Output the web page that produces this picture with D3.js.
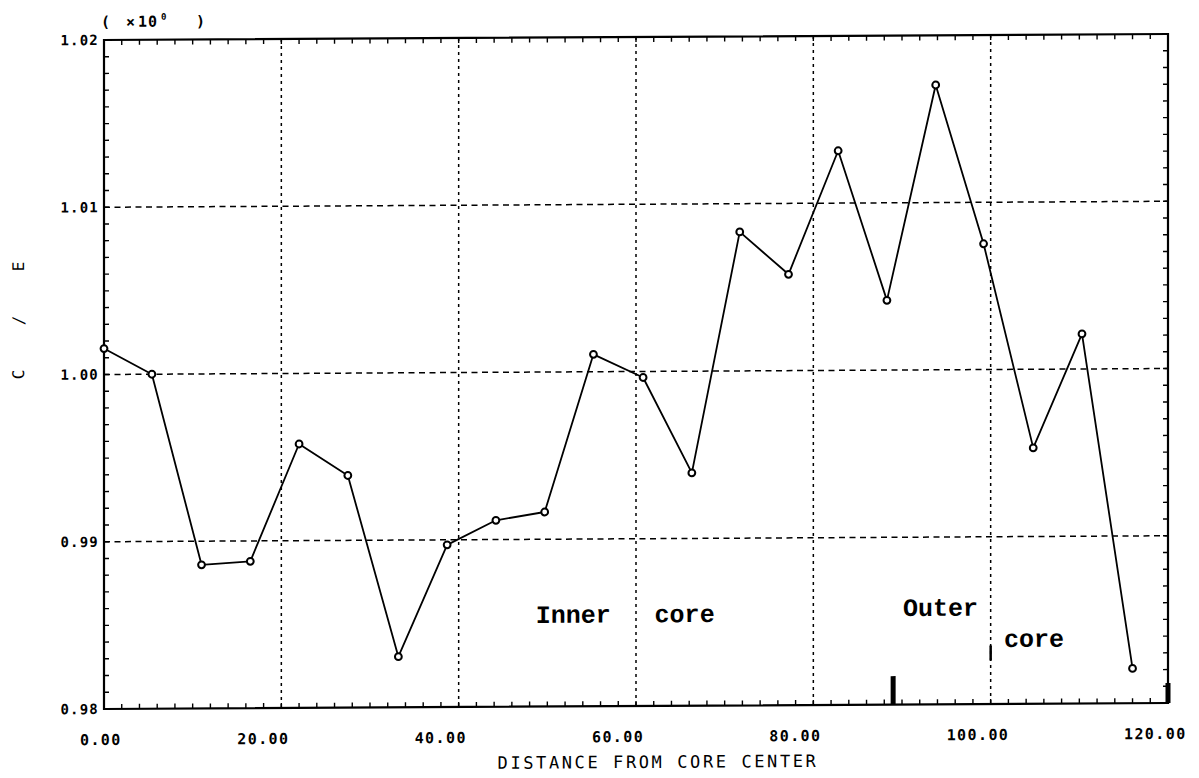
<!DOCTYPE html>
<html>
<head>
<meta charset="utf-8">
<script src="https://cdn.jsdelivr.net/npm/d3@7"></script>
<style>
  html, body { margin: 0; padding: 0; background: #fff; }
  svg { display: block; }
</style>
</head>
<body>
<svg id="chart" width="1199" height="778"></svg>
<script>
// C/E ratio against distance from the core centre
const distance = [0, 5.4, 11.0, 16.5, 22.0, 27.5, 33.2, 38.7, 44.2, 49.7, 55.2,
                  60.8, 66.3, 71.7, 77.2, 82.8, 88.3, 93.8, 99.2, 104.8, 110.3, 116.0];
const ratioCE = [1.00155, 1.00000, 0.98859, 0.98878, 0.99578, 0.99388, 0.98303,
                 0.98970, 0.99115, 0.99163, 1.00104, 0.99964, 0.99392, 1.00831,
                 1.00576, 1.01313, 1.00417, 1.01703, 1.00752, 0.99530, 1.00210, 0.98208];

const xTickValues = [0, 20, 40, 60, 80, 100, 120];
const xTickLabels = ["0.00", "20.00", "40.00", "60.00", "80.00", "100.00", "120.00"];
const yTickValues = [0.98, 0.99, 1.00, 1.01, 1.02];
const yTickLabels = ["0.98", "0.99", "1.00", "1.01", "1.02"];

// region annotations (data units, text baseline)
const noteText = ["Inner", "core", "Outer", "core"];
const noteX = [48.7, 62.1, 90.1, 101.5];
const noteY = [0.98500, 0.98500, 0.98529, 0.98341];

// boundary marks on the bottom axis
const markX = [89.0, 120.0];
const markTop = [0.9817, 0.9812];

const svg = d3.select("#chart");
const pL = 104, pR = 1168, pT = 40, pB = 709;

const x = d3.scaleLinear().domain([0, 120]).range([pL, pR]);
const y = d3.scaleLinear().domain([0.98, 1.02]).range([pB, pT]);

// slight shear: the whole plot leans up toward the right
const k = -6 / (pR - pL);
const g = svg.append("g")
  .attr("transform", `matrix(1,${k},0,1,0,${-k * pL})`);

const plotFont = "'DejaVu Sans Mono', monospace";

// grid
g.append("g").selectAll("line")
  .data(yTickValues.filter(v => v > 0.98 && v < 1.02))
  .join("line")
  .attr("x1", pL).attr("x2", pR)
  .attr("y1", d => y(d)).attr("y2", d => y(d))
  .attr("stroke", "#000").attr("stroke-width", 1.5)
  .attr("stroke-dasharray", "6,4.5");

g.append("g").selectAll("line")
  .data(xTickValues.filter(v => v > 0 && v < 120))
  .join("line")
  .attr("x1", d => x(d)).attr("x2", d => x(d))
  .attr("y1", pT).attr("y2", pB)
  .attr("stroke", "#000").attr("stroke-width", 1.5)
  .attr("stroke-dasharray", "3,4");

// inward minor ticks on all four sides
const xMinor = d3.range(0, 120.001, 2);
const yMinor = d3.range(0, 41).map(i => 0.98 + i * 0.001);
const ticks = g.append("g").attr("stroke", "#000").attr("stroke-width", 1.4);
ticks.selectAll(".tb").data(xMinor).join("line").attr("class", "tb")
  .attr("x1", d => x(d)).attr("x2", d => x(d))
  .attr("y1", pB).attr("y2", pB - 5);
ticks.selectAll(".tt").data(xMinor).join("line").attr("class", "tt")
  .attr("x1", d => x(d)).attr("x2", d => x(d))
  .attr("y1", pT).attr("y2", pT + 5);
ticks.selectAll(".tl").data(yMinor).join("line").attr("class", "tl")
  .attr("x1", pL).attr("x2", pL + 5)
  .attr("y1", d => y(d)).attr("y2", d => y(d));
ticks.selectAll(".tr").data(yMinor).join("line").attr("class", "tr")
  .attr("x1", pR).attr("x2", pR - 5)
  .attr("y1", d => y(d)).attr("y2", d => y(d));

// frame
g.append("rect")
  .attr("x", pL).attr("y", pT)
  .attr("width", pR - pL).attr("height", pB - pT)
  .attr("fill", "none").attr("stroke", "#000").attr("stroke-width", 2.2);

// boundary marks
g.append("g").selectAll("line").data(markX).join("line")
  .attr("x1", d => x(d)).attr("x2", d => x(d))
  .attr("y1", (d, i) => y(markTop[i])).attr("y2", pB)
  .attr("stroke", "#000").attr("stroke-width", 5);
g.append("line")
  .attr("x1", x(100)).attr("x2", x(100))
  .attr("y1", y(0.9835)).attr("y2", y(0.9826))
  .attr("stroke", "#000").attr("stroke-width", 2.5);

// y tick labels
g.append("g").selectAll("text").data(yTickValues).join("text")
  .attr("x", pL - 5).attr("y", d => y(d))
  .attr("dy", "0.36em")
  .attr("text-anchor", "end")
  .attr("font-family", plotFont).attr("font-size", 14)
  .attr("font-weight", "bold")
  .attr("letter-spacing", 1.2)
  .text((d, i) => yTickLabels[i]);

// x tick labels
g.append("g").selectAll("text").data(xTickValues).join("text")
  .attr("x", d => Math.max(x(d) - 44, pL - 24))
  .attr("y", pB + 36)
  .attr("text-anchor", "start")
  .attr("font-family", plotFont).attr("font-size", 15)
  .attr("font-weight", "bold")
  .attr("letter-spacing", 1.4)
  .text((d, i) => xTickLabels[i]);

// axis titles
g.append("text")
  .attr("x", 658).attr("y", pB + 62)
  .attr("text-anchor", "middle")
  .attr("font-family", plotFont).attr("font-size", 17)
  .attr("letter-spacing", 2.6)
  .text("DISTANCE FROM CORE CENTER");

g.append("text")
  .attr("transform", `translate(24,${y(1.00378)}) rotate(-90)`)
  .attr("text-anchor", "middle")
  .attr("font-family", plotFont).attr("font-size", 16)
  .attr("letter-spacing", 17.4)
  .text("C / E");

// scale factor note
const sf = g.append("text")
  .attr("y", pT - 13)
  .attr("font-family", plotFont).attr("font-size", 15).attr("font-weight", "bold");
sf.append("tspan").attr("x", pL - 3).text("(");
sf.append("tspan").attr("x", pL + 22).text("×");
sf.append("tspan").attr("x", pL + 34).attr("letter-spacing", 1).text("10");
sf.append("tspan").attr("x", pL + 57).attr("dy", -7).attr("font-size", 9).text("0");
sf.append("tspan").attr("x", pL + 92).attr("dy", 7).text(")");

// data line and markers
const line = d3.line()
  .x((d, i) => x(distance[i]))
  .y(d => y(d));

g.append("path")
  .datum(ratioCE)
  .attr("d", line)
  .attr("fill", "none")
  .attr("stroke", "#000")
  .attr("stroke-width", 1.8)
  .attr("stroke-linejoin", "round");

g.append("g").selectAll("circle").data(ratioCE).join("circle")
  .attr("cx", (d, i) => x(distance[i]))
  .attr("cy", d => y(d))
  .attr("r", 3.4)
  .attr("fill", "#fff")
  .attr("stroke", "#000")
  .attr("stroke-width", 2);

// region annotations
g.append("g").selectAll("text").data(noteText).join("text")
  .attr("x", (d, i) => x(noteX[i]))
  .attr("y", (d, i) => y(noteY[i]))
  .attr("font-family", "'Liberation Mono', 'Courier New', monospace")
  .attr("font-size", 25)
  .attr("font-weight", "bold")
  .attr("fill", "#000")
  .text(d => d);
</script>
</body>
</html>
